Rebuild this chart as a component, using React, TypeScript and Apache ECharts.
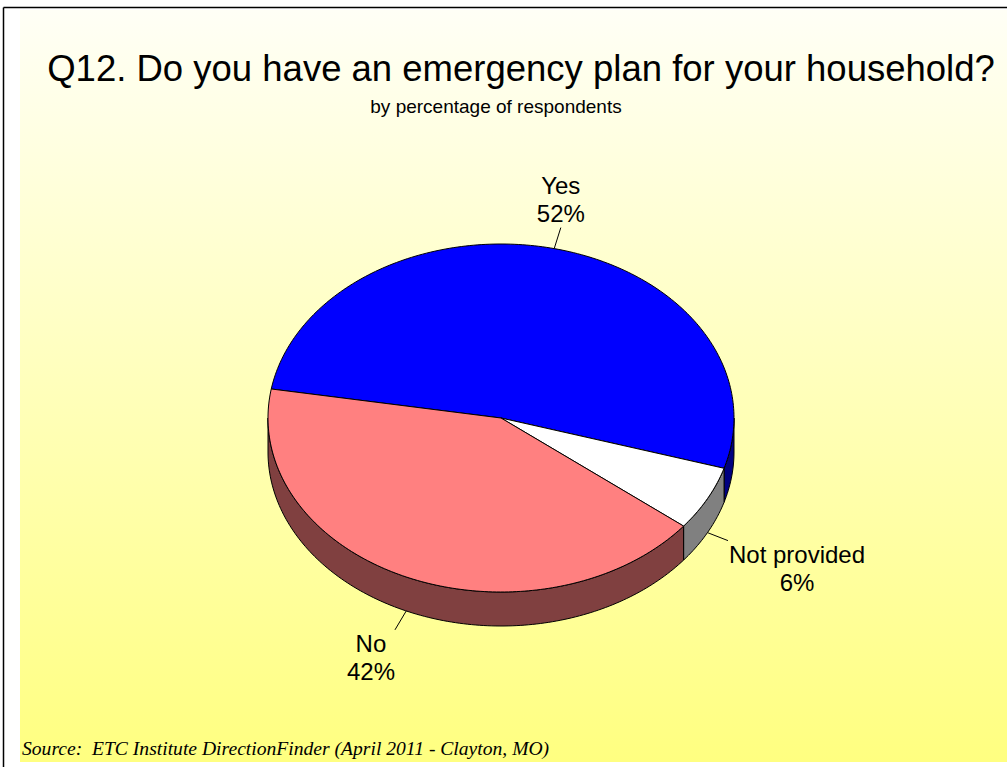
import React, { useEffect, useRef } from "react";
import * as echarts from "echarts";

// ---- data ----
const categories = ["Yes", "Not provided", "No"];
const values = [52, 6, 42];
const topColors = ["#0000FF", "#FFFFFF", "#FF8080"];
const sideColors = ["#000080", "#808080", "#804040"];
const titleText = "Q12. Do you have an emergency plan for your household?";
const subtitleText = "by percentage of respondents";
const sourceText = "Source:  ETC Institute DirectionFinder (April 2011 - Clayton, MO)";

// ---- geometry / style ----
const CX = 501;
const CY = 418;
const RX = 233;
const RY = 174;
const DEPTH = 34;
const START = 170.4;
const LEADER = 22;
const LINE_H = 28;
const SANS = "'Liberation Sans', Arial, sans-serif";
const SERIF = "'Liberation Serif', 'Times New Roman', serif";

export default function App() {
  const ref = useRef<HTMLDivElement>(null);
  useEffect(() => {
    const chart = echarts.init(ref.current!, null, { renderer: "svg" });
    const total = values.reduce((a, b) => a + b, 0);
    const canvas = document.createElement("canvas");
    const ctx = canvas.getContext("2d")!;
    ctx.font = `24px ${SANS}`;
    const measure = (s: string) =>
      Math.max(...s.split("\n").map((l) => ctx.measureText(l).width));

    const pt = (deg: number, dy = 0) => {
      const r = (deg * Math.PI) / 180;
      return [CX + RX * Math.cos(r), CY - RY * Math.sin(r) + dy];
    };
    const arc = (from: number, to: number, dy: number) => {
      const n = Math.max(2, Math.ceil(Math.abs(to - from)));
      const out: number[][] = [];
      for (let k = 0; k <= n; k++) out.push(pt(from + ((to - from) * k) / n, dy));
      return out;
    };

    const renderItem = (params: any, api: any) => {
      const i = params.dataIndex;
      const v = api.value(1);
      let before = 0;
      for (let j = 0; j < i; j++) before += values[j];
      const a1 = START - (before / total) * 360;
      const a2 = a1 - (v / total) * 360;
      const children: any[] = [];
      for (let k = -1; k <= 1; k++) {
        const lo = Math.max(a2, -180 + 360 * k);
        const hi = Math.min(a1, 360 * k);
        if (hi > lo) {
          const pts = [...arc(lo, hi, 0), ...arc(hi, lo, DEPTH)];
          children.push({
            type: "polygon",
            z2: 1,
            shape: { points: pts },
            style: { fill: sideColors[i], stroke: "#000", lineWidth: 1 },
          });
        }
      }
      children.push({
        type: "polygon",
        z2: 2,
        shape: { points: [[CX, CY], ...arc(a1, a2, 0)] },
        style: { fill: topColors[i], stroke: "#000", lineWidth: 1 },
      });
      const m = (a1 + a2) / 2;
      const mr = (m * Math.PI) / 180;
      const s = Math.sin(mr);
      const c = Math.cos(mr);
      const anchor = pt(m, s < 0 ? DEPTH : 0);
      let dx = RX * c;
      let dy = -RY * s;
      const len = Math.hypot(dx, dy);
      dx /= len;
      dy /= len;
      const end = [anchor[0] + dx * LEADER, anchor[1] + dy * LEADER];
      const text = `${categories[i]}\n${v}%`;
      const w = measure(text);
      let x = end[0];
      if (dx > 0.4) x = end[0] + w / 2 + 1;
      else if (dx < -0.4) x = end[0] - w / 2;
      const y = dy > 0 ? end[1] : end[1] - 2 * LINE_H;
      children.push({
        type: "line",
        z2: 3,
        shape: { x1: anchor[0], y1: anchor[1], x2: end[0], y2: end[1] },
        style: { stroke: "#000", lineWidth: 1 },
      });
      children.push({
        type: "text",
        z2: 3,
        x,
        y,
        style: {
          text,
          fill: "#000",
          fontSize: 24,
          fontFamily: SANS,
          align: "center",
          verticalAlign: "top",
          lineHeight: LINE_H,
        },
      });
      return { type: "group", children };
    };

    chart.setOption({
      animation: false,
      backgroundColor: "#FFFFFF",
      graphic: [
        {
          type: "rect",
          z: -10,
          shape: { x: 20, y: 10, width: 987, height: 752 },
          style: {
            fill: new echarts.graphic.LinearGradient(0, 0, 0, 1, [
              { offset: 0, color: "#FFFFF6" },
              { offset: 1, color: "#FFFF80" },
            ]),
          },
        },
        {
          type: "line",
          z: -5,
          shape: { x1: 3.5, y1: 7.5, x2: 1007, y2: 7.5 },
          style: { stroke: "#000", lineWidth: 1.5 },
        },
        {
          type: "line",
          z: -5,
          shape: { x1: 3.5, y1: 7.5, x2: 3.5, y2: 767 },
          style: { stroke: "#000", lineWidth: 1.5 },
        },
        {
          type: "text",
          z: 10,
          x: 521,
          y: 68,
          style: {
            text: titleText,
            fill: "#000",
            fontSize: 36.5,
            fontFamily: SANS,
            align: "center",
            verticalAlign: "middle",
          },
        },
        {
          type: "text",
          z: 10,
          x: 496,
          y: 106,
          style: {
            text: subtitleText,
            fill: "#000",
            fontSize: 19,
            fontFamily: SANS,
            align: "center",
            verticalAlign: "middle",
          },
        },
        {
          type: "text",
          z: 10,
          x: 22,
          y: 748,
          style: {
            text: sourceText,
            fill: "#000",
            fontSize: 19.6,
            fontStyle: "italic",
            fontFamily: SERIF,
            align: "left",
            verticalAlign: "middle",
          },
        },
      ],
      series: [
        {
          type: "custom",
          coordinateSystem: "none",
          renderItem,
          data: categories.map((c, i) => [i, values[i]]),
        },
      ],
    });
    return () => chart.dispose();
  }, []);
  return (
    <div
      ref={ref}
      style={{ position: "fixed", left: 0, top: 0, width: 1007, height: 767 }}
    />
  );
}
